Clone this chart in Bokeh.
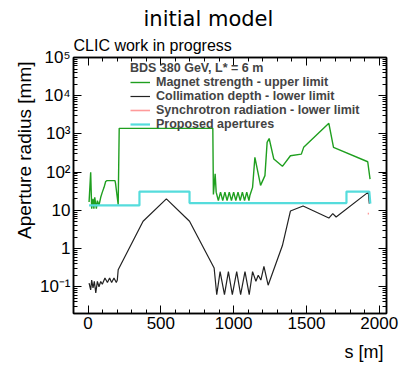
from bokeh.plotting import figure
from bokeh.models import (FixedTicker, LinearAxis, LogAxis, Legend, LegendItem, Range1d,
                          CustomJSTickFormatter, Title)
from bokeh.embed import file_html
from bokeh.resources import INLINE

# ---------------- data ----------------
title_text = "initial model"
header_text = "BDS 380 GeV, L* = 6 m"
series_names = ["Magnet strength - upper limit", "Collimation depth - lower limit",
                "Synchrotron radiation - lower limit", "Proposed apertures"]

magnet_s = [7, 18, 25, 34, 40, 46, 57, 64, 75, 87, 98, 110, 121, 130, 185, 189, 207, 214,
            857, 861, 873, 880, 895, 910, 925, 940, 955, 970, 985, 1000, 1015, 1030, 1045,
            1060, 1075, 1090, 1105, 1112, 1130, 1146, 1169, 1185, 1215, 1230, 1244, 1276,
            1335, 1390, 1465, 1481, 1654, 1686, 1921, 1937]
magnet_r = [16.5, 99, 11, 20, 11, 22, 11, 18, 13.5, 22, 30, 40, 57, 60, 60, 50, 14, 1400,
            1400, 26, 90, 30, 18, 30, 18, 30, 18, 30, 18, 30, 18, 30, 18,
            30, 18, 30, 18, 25, 40, 245, 90, 45, 81, 600, 760, 220,
            142, 268, 296, 445, 1900, 445, 187, 66]

collim_s = [7, 18, 25, 34, 43, 53, 64, 75, 87, 98, 116, 133, 148, 162, 178, 194, 201, 207,
            378, 538, 697, 866, 884, 907, 937, 964, 991, 1021, 1048, 1078, 1107, 1130,
            1153, 1169, 1187, 1208, 1237, 1335, 1390, 1477, 1654, 1681, 1704, 1925, 1932]
collim_r = [0.125, 0.083, 0.15, 0.093, 0.138, 0.069, 0.138, 0.1, 0.138, 0.117, 0.17, 0.13,
            0.17, 0.13, 0.17, 0.13, 0.15, 0.28,
            5.2, 20, 5.2, 0.31, 0.062, 0.25, 0.062, 0.25, 0.062, 0.25, 0.062, 0.25, 0.062, 0.25,
            0.14, 0.2, 0.15, 0.34, 0.11, 1.2, 9.6, 13, 6.3, 8.2, 6.7, 30, 15]

synch_s = [1921, 1930]
synch_r = [8.2, 8.2]

aper_s = [7, 353, 353, 697, 697, 1775, 1775, 1932, 1939]
aper_r = [13.5, 13.5, 31, 31, 15.5, 15.5, 31, 31, 15]

x_ticks = [0, 500, 1000, 1500, 2000]
x_minor = [v for v in range(-100, 2051, 100) if v % 500 != 0]
y_ticks = [0.1, 1, 10, 100, 1000, 10000, 100000]
y_tick_labels = ["10\u207b\u00b9", "1", "10", "10\u00b2", "10\u00b3", "10\u2074", "10\u2075"]
y_minor = [m * 10.0 ** e for e in range(-2, 5) for m in range(2, 10)]

# ---------------- figure ----------------
W, H = 402, 369
FONT = "Liberation Sans"
p = figure(width=W, height=H, output_backend="svg", toolbar_location=None,
           x_range=Range1d(-100, 2050), y_range=Range1d(0.02, 1e5), y_axis_type="log",
           min_border_left=73, min_border_right=16, min_border_top=57, min_border_bottom=54,
           title=None)
p.grid.visible = False
p.outline_line_color = "black"
p.outline_line_width = 1.5
p.background_fill_color = "white"
p.border_fill_color = "white"

r_mag = p.line(magnet_s, magnet_r, line_color="#1f9f1f", line_width=1.4)
r_col = p.line(collim_s, collim_r, line_color="#222222", line_width=1.2)
r_syn = p.line(synch_s, synch_r, line_color="#ff9a9a", line_width=1.6)
r_ape = p.line(aper_s, aper_r, line_color="#55dcdc", line_width=2.2)


def style_axis(ax):
    ax.axis_line_color = "black"
    ax.axis_line_width = 1.5
    ax.major_tick_in = 8
    ax.major_tick_out = 0
    ax.minor_tick_in = 4
    ax.minor_tick_out = 0
    ax.major_tick_line_color = "black"
    ax.minor_tick_line_color = "black"
    ax.major_label_text_font = FONT
    ax.major_label_text_font_size = "17px"
    ax.major_label_text_color = "black"


xa = p.xaxis[0]
xa.ticker = FixedTicker(ticks=x_ticks, minor_ticks=x_minor)
style_axis(xa)
xa.major_label_standoff = 3

ya = p.yaxis[0]
ya.ticker = FixedTicker(ticks=y_ticks, minor_ticks=y_minor)
style_axis(ya)
ya.major_label_standoff = 3
ya.major_label_overrides = {v: t for v, t in zip(y_ticks, y_tick_labels)}

blank = CustomJSTickFormatter(code="return ' ';")
top = LinearAxis(ticker=FixedTicker(ticks=x_ticks, minor_ticks=x_minor), formatter=blank)
style_axis(top)
top.major_label_text_font_size = "1px"
top.major_label_standoff = 0
p.add_layout(top, "above")
right = LogAxis(ticker=FixedTicker(ticks=y_ticks, minor_ticks=y_minor), formatter=blank)
style_axis(right)
right.major_label_text_font_size = "1px"
right.major_label_standoff = 0
p.add_layout(right, "right")

# legend
legend = Legend(items=[LegendItem(label=series_names[0], renderers=[r_mag]),
                       LegendItem(label=series_names[1], renderers=[r_col]),
                       LegendItem(label=series_names[2], renderers=[r_syn]),
                       LegendItem(label=series_names[3], renderers=[r_ape])],
                location=(57, 182), title=header_text)
legend.title_text_font = FONT
legend.title_text_font_style = "bold"
legend.title_text_font_size = "12.5px"
legend.title_standoff = 0
legend.label_text_font = FONT
legend.label_text_font_style = "bold"
legend.label_text_font_size = "12.5px"
legend.label_height = 14
legend.glyph_height = 14
legend.glyph_width = 20
legend.label_standoff = 6
legend.spacing = 0
legend.padding = 0
legend.margin = 0
legend.border_line_color = None
legend.background_fill_alpha = 0
p.add_layout(legend)

# texts (titles stack outward from the frame in the order they are added)
p.add_layout(Title(text="CLIC work in progress", align="left", offset=0, standoff=0,
                   text_font=FONT, text_font_size="16px", text_font_style="normal",
                   text_color="black"), "above")
p.add_layout(Title(text=title_text, align="left", offset=70, standoff=7,
                   text_font="DejaVu Sans", text_font_size="21px", text_font_style="normal",
                   text_color="black"), "above")
p.add_layout(Title(text="Aperture radius [mm]", align="right", offset=4, standoff=4,
                   text_font=FONT, text_font_size="19px", text_font_style="normal",
                   text_color="black"), "left")
p.add_layout(Title(text="s [m]", align="right", offset=3, standoff=16,
                   text_font=FONT, text_font_size="18px", text_font_style="normal",
                   text_color="black"), "below")

open("out.html", "w").write(file_html(p, INLINE))
